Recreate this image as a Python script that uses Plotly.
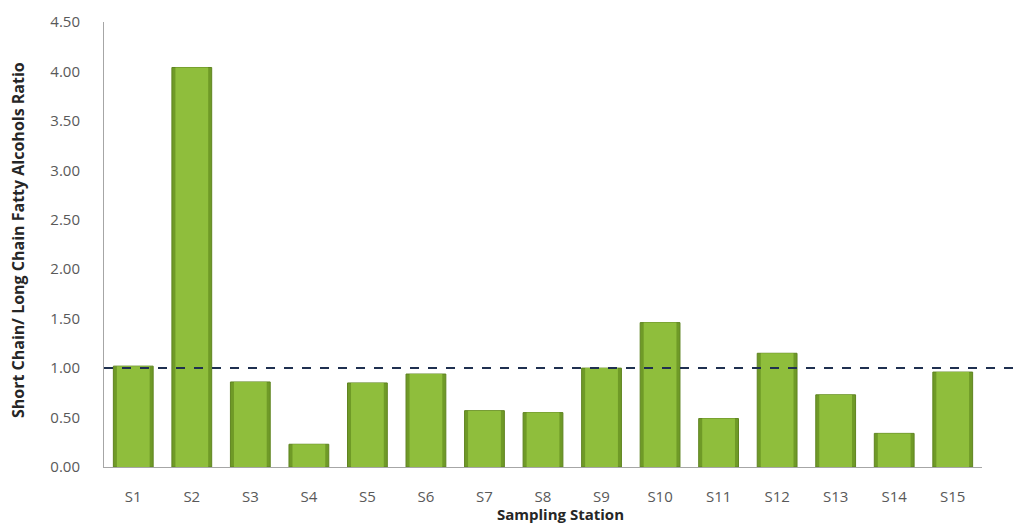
import plotly.graph_objects as go

stations = ["S1", "S2", "S3", "S4", "S5", "S6", "S7", "S8", "S9", "S10",
            "S11", "S12", "S13", "S14", "S15"]
ratios = [1.02, 4.04, 0.86, 0.23, 0.85, 0.94, 0.57, 0.55, 1.00, 1.46,
          0.49, 1.15, 0.73, 0.34, 0.96]
threshold = 1.0
y_ticks = [0, 0.5, 1.0, 1.5, 2.0, 2.5, 3.0, 3.5, 4.0, 4.5]

fig = go.Figure()
# outer (darker edge) bar
fig.add_trace(go.Bar(
    x=stations, y=ratios,
    marker=dict(color="#6f9a27", line=dict(color="#5f8420", width=1)),
    width=0.68, hoverinfo="skip",
))
# inner (lighter face) bar
fig.add_trace(go.Bar(
    x=stations, y=ratios,
    marker=dict(color="#8fbe3c", line=dict(width=0)),
    width=0.56,
))

fig.add_shape(type="line", xref="paper", yref="y", x0=0, x1=1.04,
              y0=threshold, y1=threshold,
              line=dict(color="#1f3050", width=2, dash="dash"))

fig.update_layout(
    width=1015, height=527,
    barmode="overlay",
    margin=dict(l=104, r=33, t=22, b=60),
    paper_bgcolor="white", plot_bgcolor="white",
    showlegend=False,
    font=dict(family="Open Sans, sans-serif", size=15, color="#595959"),
    xaxis=dict(showline=True, linecolor="#a6a6a6", linewidth=1,
               ticks="", showgrid=False, ticklabelstandoff=16,
               tickfont=dict(size=15, color="#595959")),
    yaxis=dict(range=[0, 4.5], tickvals=y_ticks, tickformat=".2f",
               showline=True, linecolor="#a6a6a6", linewidth=1,
               ticks="", ticklabelstandoff=20,
               showgrid=False, zeroline=False,
               tickfont=dict(size=15, color="#595959")),
    annotations=[
        dict(text="<b>Sampling Station</b>", xref="paper", yref="paper",
             x=0.52, y=-0.1326, xanchor="center", yanchor="bottom",
             showarrow=False, font=dict(size=15, color="#262626")),
        dict(text="<b>Short Chain/ Long Chain Fatty Alcohols Ratio</b>",
             xref="paper", yref="paper", x=-0.098, y=0.51, textangle=-90,
             xanchor="center", yanchor="middle", showarrow=False,
             font=dict(size=16, color="#262626")),
    ],
)

fig.write_html("out.html")
